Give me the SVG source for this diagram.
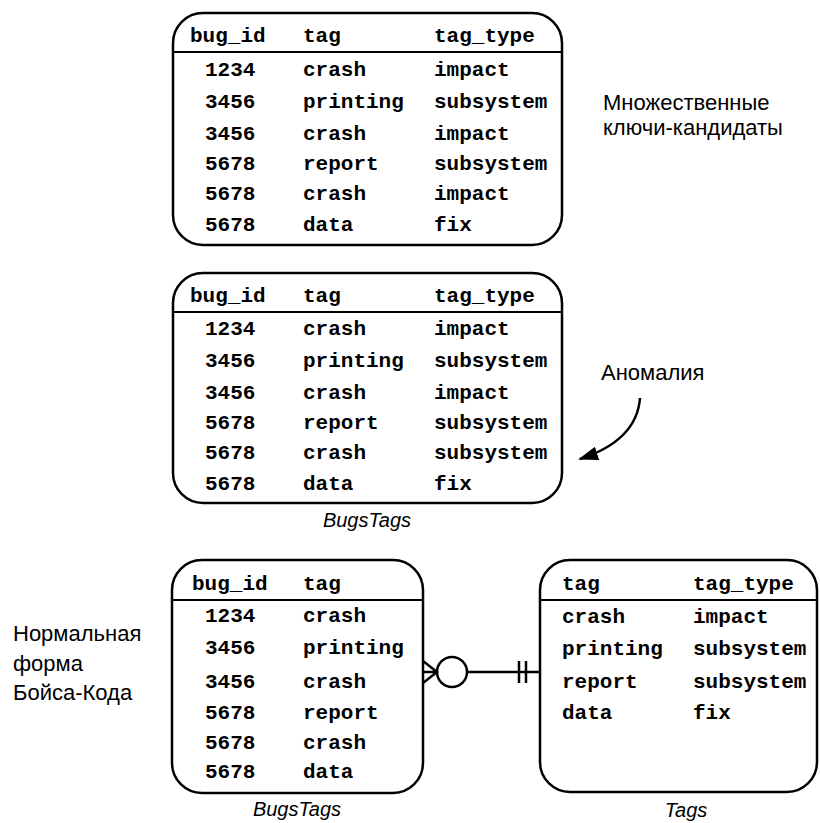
<svg xmlns="http://www.w3.org/2000/svg" width="820" height="823" viewBox="0 0 820 823">
<defs>
<style>
.box{fill:none;stroke:#000;stroke-width:2.5}
.sep{stroke:#000;stroke-width:2}
.m{font-family:"Liberation Mono","Courier New",monospace;font-weight:bold;font-size:21px;fill:#000}
.s{font-family:"Liberation Sans",Arial,sans-serif;font-size:22px;fill:#000}
.cap{font-family:"Liberation Sans",Arial,sans-serif;font-style:italic;font-size:20px;fill:#000;text-anchor:middle}
.ln{fill:none;stroke:#000;stroke-width:2.5}
</style>
<marker id="ah" markerWidth="20" markerHeight="14" refX="18" refY="7" orient="auto" markerUnits="userSpaceOnUse">
<path d="M0,0 L20,7 L0,14 Z" fill="#000"/>
</marker>
</defs>
<rect width="820" height="823" fill="#fff"/>

<g id="table1">
<rect class="box" x="173" y="13" width="389" height="232" rx="30"/>
<line class="sep" x1="173" y1="52" x2="562" y2="52"/>
<text class="m" x="190" y="42">bug_id</text><text class="m" x="303" y="42">tag</text><text class="m" x="434" y="42">tag_type</text>
<text class="m" x="205" y="76">1234</text><text class="m" x="303" y="76">crash</text><text class="m" x="434" y="76">impact</text>
<text class="m" x="205" y="108">3456</text><text class="m" x="303" y="108">printing</text><text class="m" x="434" y="108">subsystem</text>
<text class="m" x="205" y="140">3456</text><text class="m" x="303" y="140">crash</text><text class="m" x="434" y="140">impact</text>
<text class="m" x="205" y="170">5678</text><text class="m" x="303" y="170">report</text><text class="m" x="434" y="170">subsystem</text>
<text class="m" x="205" y="200">5678</text><text class="m" x="303" y="200">crash</text><text class="m" x="434" y="200">impact</text>
<text class="m" x="205" y="231">5678</text><text class="m" x="303" y="231">data</text><text class="m" x="434" y="231">fix</text>
</g>

<g id="label-candidates">
<text class="s" x="603" y="110">Множественные</text>
<text class="s" x="603" y="135">ключи-кандидаты</text>
</g>

<g id="table2">
<rect class="box" x="173" y="273" width="389" height="230" rx="30"/>
<line class="sep" x1="173" y1="312" x2="562" y2="312"/>
<text class="m" x="190" y="302">bug_id</text><text class="m" x="303" y="302">tag</text><text class="m" x="434" y="302">tag_type</text>
<text class="m" x="205" y="335">1234</text><text class="m" x="303" y="335">crash</text><text class="m" x="434" y="335">impact</text>
<text class="m" x="205" y="367">3456</text><text class="m" x="303" y="367">printing</text><text class="m" x="434" y="367">subsystem</text>
<text class="m" x="205" y="399">3456</text><text class="m" x="303" y="399">crash</text><text class="m" x="434" y="399">impact</text>
<text class="m" x="205" y="429">5678</text><text class="m" x="303" y="429">report</text><text class="m" x="434" y="429">subsystem</text>
<text class="m" x="205" y="459">5678</text><text class="m" x="303" y="459">crash</text><text class="m" x="434" y="459">subsystem</text>
<text class="m" x="205" y="490">5678</text><text class="m" x="303" y="490">data</text><text class="m" x="434" y="490">fix</text>
<text class="cap" x="367" y="527">BugsTags</text>
</g>

<g id="label-anomaly">
<text class="s" x="601" y="380">Аномалия</text>
</g>

<g id="table3">
<rect class="box" x="172" y="560" width="251" height="233" rx="30"/>
<line class="sep" x1="172" y1="600" x2="423" y2="600"/>
<text class="m" x="192" y="590">bug_id</text><text class="m" x="303" y="590">tag</text>
<text class="m" x="205" y="622">1234</text><text class="m" x="303" y="622">crash</text>
<text class="m" x="205" y="654">3456</text><text class="m" x="303" y="654">printing</text>
<text class="m" x="205" y="688">3456</text><text class="m" x="303" y="688">crash</text>
<text class="m" x="205" y="719">5678</text><text class="m" x="303" y="719">report</text>
<text class="m" x="205" y="749">5678</text><text class="m" x="303" y="749">crash</text>
<text class="m" x="205" y="778">5678</text><text class="m" x="303" y="778">data</text>
<text class="cap" x="297" y="816">BugsTags</text>
</g>

<g id="label-bcnf">
<text class="s" x="13" y="641">Нормальная</text>
<text class="s" x="13" y="671">форма</text>
<text class="s" x="13" y="700">Бойса-Кода</text>
</g>

<g id="table4">
<rect class="box" x="540" y="560" width="277" height="232" rx="30"/>
<line class="sep" x1="540" y1="600" x2="817" y2="600"/>
<text class="m" x="562" y="590">tag</text><text class="m" x="693" y="590">tag_type</text>
<text class="m" x="562" y="623">crash</text><text class="m" x="693" y="623">impact</text>
<text class="m" x="562" y="655">printing</text><text class="m" x="693" y="655">subsystem</text>
<text class="m" x="562" y="688">report</text><text class="m" x="693" y="688">subsystem</text>
<text class="m" x="562" y="719">data</text><text class="m" x="693" y="719">fix</text>
<text class="cap" x="686" y="817">Tags</text>
</g>

<g id="connectors">
<path class="ln" d="M423,661 L437,672 L423,683 M423,672 L437,672"/>
<circle class="ln" cx="452" cy="672" r="15"/>
<line class="ln" x1="467" y1="672" x2="540" y2="672"/>
<line class="ln" x1="519" y1="661" x2="519" y2="683"/>
<line class="ln" x1="526" y1="661" x2="526" y2="683"/>
<path class="ln" d="M640,398 C638,425 620,446 580,459" marker-end="url(#ah)"/>
</g>
</svg>
